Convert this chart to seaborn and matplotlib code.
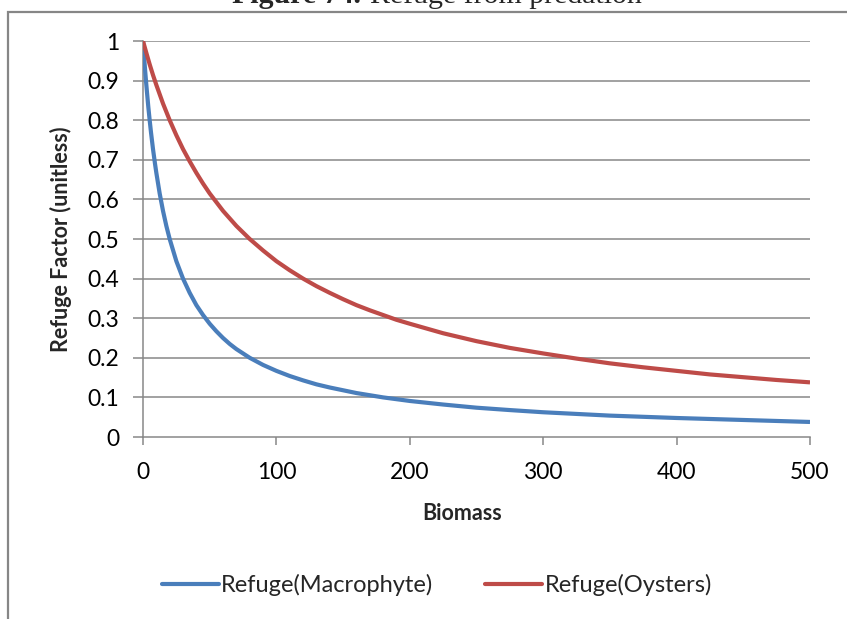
import numpy as np
import pandas as pd
import matplotlib
matplotlib.use("Agg")
import matplotlib.pyplot as plt
from matplotlib.patches import Rectangle
from matplotlib.lines import Line2D
import seaborn as sns

# Biomass values at which the refuge factors were tabulated
biomass_macrophyte = [0, 0.5, 1, 1.5, 2, 2.5, 3, 4, 5, 6, 7.5, 9, 10, 12.5, 15, 17.5,
                      20, 25, 30, 35, 40, 45, 50, 55, 60, 65, 70, 75, 80, 90, 100,
                      110, 120, 130, 140, 150, 160, 180, 200, 225, 250, 275, 300,
                      350, 400, 450, 500]
refuge_macrophyte = [1.0, 0.976, 0.952, 0.930, 0.909, 0.889, 0.870, 0.833, 0.800,
                     0.769, 0.727, 0.690, 0.667, 0.615, 0.571, 0.533, 0.500, 0.444,
                     0.400, 0.364, 0.333, 0.308, 0.286, 0.267, 0.250, 0.235, 0.222,
                     0.211, 0.200, 0.182, 0.167, 0.154, 0.143, 0.133, 0.125, 0.118,
                     0.111, 0.100, 0.091, 0.082, 0.074, 0.068, 0.0625, 0.054, 0.048,
                     0.043, 0.038]

biomass_oysters = [0, 2.5, 5, 7.5, 10, 15, 20, 25, 30, 35, 40, 45, 50, 60, 70, 80, 90,
                   100, 110, 120, 130, 140, 150, 160, 170, 180, 190, 200, 225, 250,
                   275, 300, 325, 350, 375, 400, 425, 450, 475, 500]
refuge_oysters = [1.0, 0.970, 0.941, 0.914, 0.889, 0.842, 0.800, 0.762, 0.727, 0.696,
                  0.667, 0.640, 0.615, 0.571, 0.533, 0.500, 0.471, 0.444, 0.421,
                  0.400, 0.381, 0.364, 0.348, 0.333, 0.320, 0.308, 0.296, 0.286,
                  0.262, 0.242, 0.225, 0.211, 0.198, 0.186, 0.176, 0.167, 0.158,
                  0.151, 0.144, 0.138]

series_names = ["Refuge(Macrophyte)", "Refuge(Oysters)"]
series_colors = ["#4A7EBB", "#BE4B48"]
x_ticks = [0, 100, 200, 300, 400, 500]
y_ticks = [0, 0.1, 0.2, 0.3, 0.4, 0.5, 0.6, 0.7, 0.8, 0.9, 1.0]
y_tick_labels = ["0", "0.1", "0.2", "0.3", "0.4", "0.5", "0.6", "0.7", "0.8", "0.9", "1"]

df = pd.concat([
    pd.DataFrame({"Biomass": biomass_macrophyte, "Refuge": refuge_macrophyte,
                  "Series": series_names[0]}),
    pd.DataFrame({"Biomass": biomass_oysters, "Refuge": refuge_oysters,
                  "Series": series_names[1]}),
], ignore_index=True)

sns.set_style("white")
plt.rcParams["font.family"] = ["Lato", "DejaVu Sans"]

W, H = 847, 619
fig = plt.figure(figsize=(W / 100, H / 100), dpi=100)
ax = fig.add_axes([143 / W, 1 - 437 / H, (810 - 143) / W, (437 - 41) / H])

grid_color = "#878787"
for yv in y_ticks[1:]:
    ax.axhline(yv, color=grid_color, lw=1.1, zorder=1)

sns.lineplot(data=df, x="Biomass", y="Refuge", hue="Series", hue_order=series_names,
             palette=series_colors, lw=3.0, ax=ax, legend=False, sort=True,
             estimator=None, zorder=3)
for ln in ax.lines:
    ln.set_solid_capstyle("butt")
    ln.set_solid_joinstyle("round")

ax.set_xlim(0, 500)
ax.set_ylim(0, 1)
ax.set_xticks(x_ticks)
ax.set_xticklabels([str(v) for v in x_ticks])
ax.set_yticks(y_ticks)
ax.set_yticklabels(y_tick_labels)

for side in ["top", "right"]:
    ax.spines[side].set_visible(False)
for side in ["left", "bottom"]:
    ax.spines[side].set_color(grid_color)
    ax.spines[side].set_linewidth(1.1)

ax.tick_params(axis="x", direction="out", length=6, width=1.1, color=grid_color,
               labelsize=16.5, pad=12, labelcolor="#000000", bottom=True)
ax.tick_params(axis="y", direction="out", length=7, width=1.1, color=grid_color,
               labelsize=16.5, pad=10, labelcolor="#000000", left=True)

ax.set_xlabel("Biomass", fontsize=15.5, fontweight="bold")
ax.xaxis.set_label_coords((462 - 143) / (810 - 143), -(513 - 437) / (437 - 41))
ax.xaxis.label.set_va("center")
ax.set_ylabel("Refuge Factor (unitless)", fontsize=15.5, fontweight="bold")
ax.yaxis.set_label_coords(-(143 - 61) / (810 - 143), 0.5)
ax.yaxis.label.set_va("center")

# chart frame
fig.patches.append(Rectangle((8 / W, -0.1), 1.2, 1 - 12 / H + 0.1,
                             transform=fig.transFigure, fill=False,
                             edgecolor="#868686", lw=1.6, zorder=0))

# figure caption above the frame
title_y = 1 - 3 / H
t_bold = fig.text(232 / W, title_y, "Figure 74.", fontsize=21.5, fontweight="bold",
                  family="Liberation Serif", ha="left", va="baseline")
fig.canvas.draw()
bb = t_bold.get_window_extent()
fig.text((bb.x1 + 9) / W, title_y, "Refuge from predation", fontsize=21.5,
         family="Liberation Serif", ha="left", va="baseline")

handles = [Line2D([], [], color=c, lw=3.0) for c in series_colors]
fig.legend(handles, series_names, loc="center", bbox_to_anchor=(437 / W, 1 - 585 / H),
           ncol=2, frameon=False, fontsize=17, handlelength=2.4, handletextpad=0.1,
           columnspacing=2.2)

fig.savefig("out.png", dpi=100)
